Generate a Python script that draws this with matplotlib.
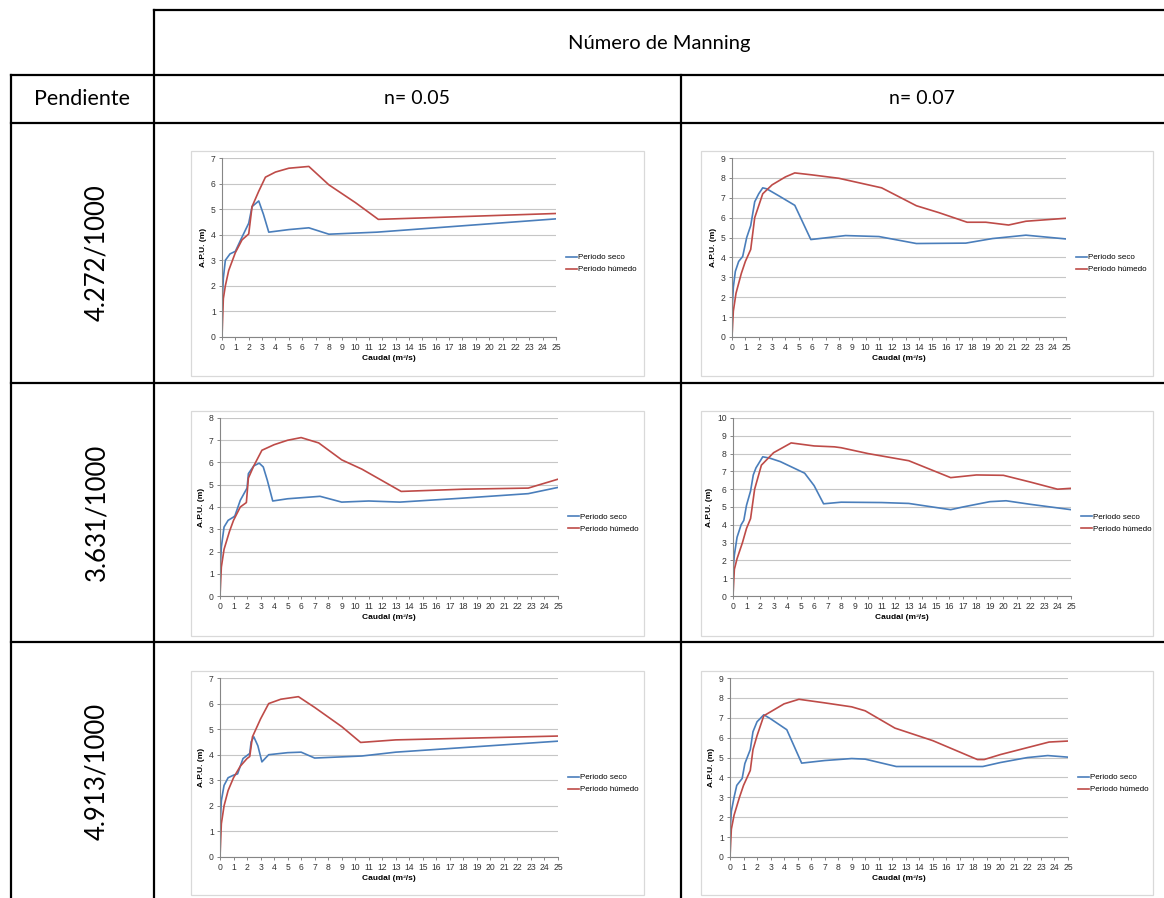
import matplotlib
matplotlib.use("Agg")
import matplotlib.pyplot as plt
from matplotlib.lines import Line2D
from matplotlib.patches import Rectangle

W, H = 1164, 898

# table text
header_top = "Número de Manning"
header_left = "Pendiente"
col_labels = ["n= 0.05", "n= 0.07"]
row_labels = ["4.272/1000", "3.631/1000", "4.913/1000"]
series_names = ["Periodo seco", "Periodo húmedo"]

# row 1, n=0.05
q_seco_1 = [0, 0.1, 0.25, 0.6, 1.0, 1.4, 2.0, 2.25, 2.75, 3.1, 3.5, 5.0, 6.5, 8.0, 11.6, 25]
h_seco_1 = [1.2, 2.3, 3.0, 3.25, 3.35, 3.8, 4.45, 5.1, 5.32, 4.8, 4.1, 4.2, 4.27, 4.02, 4.1, 4.62]
q_hum_1 = [0, 0.1, 0.25, 0.5, 1.0, 1.5, 2.0, 2.25, 2.75, 3.25, 4.0, 5.0, 6.5, 8.0, 10.0, 11.7, 25]
h_hum_1 = [0, 1.5, 2.0, 2.6, 3.3, 3.8, 4.03, 5.1, 5.7, 6.25, 6.45, 6.6, 6.67, 5.95, 5.25, 4.6, 4.83]

# row 1, n=0.07
q_seco_2 = [0, 0.1, 0.25, 0.5, 0.8, 1.1, 1.4, 1.7, 2.0, 2.3, 2.6, 3.5, 4.7, 5.9, 8.5, 11.0, 13.8, 17.5, 19.5, 22.0, 25]
h_seco_2 = [1.3, 2.5, 3.3, 3.8, 4.05, 5.0, 5.6, 6.8, 7.2, 7.5, 7.45, 7.1, 6.62, 4.9, 5.1, 5.05, 4.7, 4.72, 4.95, 5.12, 4.93]
q_hum_2 = [0, 0.1, 0.3, 0.7, 1.0, 1.4, 1.7, 2.3, 3.0, 4.0, 4.7, 6.0, 8.0, 11.2, 13.8, 15.5, 17.6, 19.0, 20.7, 22.0, 25]
h_hum_2 = [0, 1.3, 2.2, 3.2, 3.8, 4.4, 6.0, 7.2, 7.65, 8.05, 8.25, 8.15, 7.98, 7.5, 6.6, 6.25, 5.77, 5.77, 5.63, 5.82, 5.97]

# row 2, n=0.05
q_seco_3 = [0, 0.1, 0.3, 0.6, 1.0, 1.1, 1.5, 2.0, 2.1, 2.5, 2.9, 3.2, 3.5, 3.9, 5.0, 7.4, 9.0, 11.0, 13.3, 18.0, 22.8, 25]
h_seco_3 = [1.0, 2.2, 3.1, 3.4, 3.55, 3.6, 4.3, 4.85, 5.5, 5.85, 5.97, 5.8, 5.2, 4.27, 4.37, 4.48, 4.22, 4.27, 4.22, 4.4, 4.6, 4.88]
q_hum_3 = [0, 0.1, 0.3, 0.7, 1.0, 1.5, 1.95, 2.1, 2.5, 3.1, 4.0, 5.0, 6.0, 7.3, 9.0, 10.5, 13.4, 18.0, 22.8, 25]
h_hum_3 = [0, 1.3, 2.1, 2.9, 3.4, 4.0, 4.2, 5.3, 5.85, 6.55, 6.8, 7.0, 7.12, 6.88, 6.12, 5.7, 4.7, 4.8, 4.85, 5.25]

# row 2, n=0.07
q_seco_4 = [0, 0.1, 0.3, 0.6, 0.8, 1.0, 1.3, 1.5, 1.7, 2.2, 2.7, 3.5, 5.3, 6.0, 6.7, 8.0, 11.0, 13.0, 16.1, 17.0, 19.0, 20.2, 22.0, 25]
h_seco_4 = [1.4, 2.3, 3.3, 4.0, 4.25, 5.1, 5.9, 6.8, 7.2, 7.82, 7.75, 7.55, 6.9, 6.2, 5.18, 5.27, 5.25, 5.2, 4.85, 5.0, 5.3, 5.35, 5.15, 4.85]
q_hum_4 = [0, 0.1, 0.3, 0.7, 1.0, 1.3, 1.6, 2.1, 3.0, 4.3, 6.0, 7.5, 8.0, 10.0, 13.0, 16.1, 18.0, 20.0, 22.0, 24.0, 25]
h_hum_4 = [0, 1.5, 2.1, 3.0, 3.8, 4.35, 6.0, 7.35, 8.05, 8.6, 8.43, 8.38, 8.33, 8.0, 7.6, 6.65, 6.8, 6.78, 6.4, 6.0, 6.05]

# row 3, n=0.05
q_seco_5 = [0, 0.1, 0.3, 0.6, 1.0, 1.3, 1.7, 2.2, 2.3, 2.5, 2.8, 3.1, 3.6, 5.0, 6.0, 7.0, 10.5, 13.0, 25]
h_seco_5 = [1.1, 2.2, 2.8, 3.1, 3.2, 3.25, 3.85, 4.05, 4.5, 4.7, 4.35, 3.72, 4.0, 4.08, 4.1, 3.87, 3.95, 4.1, 4.53]
q_hum_5 = [0, 0.1, 0.3, 0.6, 1.0, 1.5, 2.0, 2.2, 2.4, 3.0, 3.6, 4.5, 5.8, 7.0, 9.0, 10.4, 13.0, 25]
h_hum_5 = [0, 1.3, 2.0, 2.6, 3.1, 3.55, 3.85, 3.93, 4.7, 5.4, 6.0, 6.17, 6.27, 5.85, 5.1, 4.48, 4.58, 4.73]

# row 3, n=0.07
q_seco_6 = [0, 0.1, 0.3, 0.5, 0.9, 1.1, 1.5, 1.7, 2.0, 2.5, 3.0, 4.2, 5.3, 7.0, 9.0, 10.0, 12.3, 18.7, 20.0, 22.0, 23.5, 25]
h_seco_6 = [1.2, 2.3, 3.0, 3.6, 3.95, 4.7, 5.4, 6.3, 6.8, 7.15, 6.95, 6.4, 4.72, 4.85, 4.95, 4.92, 4.55, 4.55, 4.75, 5.0, 5.1, 5.02]
q_hum_6 = [0, 0.1, 0.3, 0.7, 1.0, 1.5, 1.7, 2.0, 2.5, 3.0, 4.0, 5.1, 7.0, 9.0, 10.0, 12.2, 15.0, 18.3, 18.8, 20.0, 22.0, 23.6, 25]
h_hum_6 = [0, 1.4, 2.1, 3.0, 3.6, 4.35, 5.4, 6.1, 7.1, 7.3, 7.7, 7.93, 7.75, 7.55, 7.35, 6.48, 5.85, 4.9, 4.9, 5.15, 5.5, 5.78, 5.83]

y_max = [7, 9, 8, 10, 7, 9]

charts = [
    (q_seco_1, h_seco_1, q_hum_1, h_hum_1),
    (q_seco_2, h_seco_2, q_hum_2, h_hum_2),
    (q_seco_3, h_seco_3, q_hum_3, h_hum_3),
    (q_seco_4, h_seco_4, q_hum_4, h_hum_4),
    (q_seco_5, h_seco_5, q_hum_5, h_hum_5),
    (q_seco_6, h_seco_6, q_hum_6, h_hum_6),
]

# pixel boxes (x0, y0, x1, y1), top-left origin
chart_boxes = [(191, 151, 644, 376), (701, 151, 1153, 376),
               (191, 411, 644, 636), (701, 411, 1153, 636),
               (191, 671, 644, 895), (701, 671, 1153, 895)]
plot_boxes = [(222, 158, 556, 337), (732, 158, 1066, 337),
              (220, 418, 558, 596), (733, 418, 1071, 596),
              (220, 678, 558, 857), (730, 678, 1068, 857)]

blue = "#4a7ebb"
red = "#be4b48"
table_font = "Lato"
chart_font = "Liberation Sans"

fig = plt.figure(figsize=(W / 100, H / 100), dpi=100)


def fx(x):
    return x / W


def fy(y):
    return 1 - y / H


def hline(y, x0, x1):
    fig.add_artist(Line2D([fx(x0), fx(x1)], [fy(y), fy(y)], color="black", lw=1.6,
                          transform=fig.transFigure))


def vline(x, y0, y1):
    fig.add_artist(Line2D([fx(x), fx(x)], [fy(y0), fy(y1)], color="black", lw=1.6,
                          transform=fig.transFigure))


# table grid
hline(10, 154, 1164)
hline(75, 11, 1164)
hline(123, 11, 1164)
hline(383, 11, 1164)
hline(642, 11, 1164)
vline(11, 75, 898)
vline(154, 10, 898)
vline(681, 75, 898)

fig.text(fx(659), fy(43), header_top, ha="center", va="center", fontsize=14.5, family=table_font)
fig.text(fx(82), fy(99), header_left, ha="center", va="center", fontsize=15.5, family=table_font)
fig.text(fx(417), fy(99), col_labels[0], ha="center", va="center", fontsize=14, family=table_font)
fig.text(fx(922), fy(99), col_labels[1], ha="center", va="center", fontsize=14, family=table_font)
for lab, yc in zip(row_labels, [253, 512, 771]):
    fig.text(fx(97), fy(yc), lab, ha="center", va="center", rotation=90, fontsize=18.5,
             family=table_font)

for i, (qs, hs, qh, hh) in enumerate(charts):
    bx0, by0, bx1, by1 = chart_boxes[i]
    fig.add_artist(Rectangle((fx(bx0), fy(by1)), fx(bx1 - bx0), (by1 - by0) / H,
                             transform=fig.transFigure, fill=False, edgecolor="#d9d9d9", lw=0.9))
    px0, py0, px1, py1 = plot_boxes[i]
    ax = fig.add_axes([fx(px0), fy(py1), fx(px1 - px0), (py1 - py0) / H])
    ax.plot(qs, hs, color=blue, lw=1.2, label=series_names[0])
    ax.plot(qh, hh, color=red, lw=1.2, label=series_names[1])
    ax.set_xlim(0, 25)
    ax.set_ylim(0, y_max[i])
    ax.set_xticks(range(0, 26))
    ax.set_yticks(range(0, y_max[i] + 1))
    ax.grid(axis="y", color="#c6c6c6", lw=0.8)
    ax.set_axisbelow(True)
    for s in ["top", "right"]:
        ax.spines[s].set_visible(False)
    for s in ["left", "bottom"]:
        ax.spines[s].set_color("#868686")
        ax.spines[s].set_linewidth(0.8)
    ax.tick_params(direction="out", length=2.5, width=0.7, color="#868686",
                   labelsize=6.2, labelcolor="#333333", pad=2)
    for t in ax.get_xticklabels() + ax.get_yticklabels():
        t.set_family(chart_font)
    ax.set_xlabel("Caudal (m³/s)", fontsize=6, fontweight="bold", family=chart_font, labelpad=2)
    ax.set_ylabel("A.P.U. (m)", fontsize=6, fontweight="bold", family=chart_font, labelpad=3)
    ax.legend(loc="center left", bbox_to_anchor=(1.02, 0.41), frameon=False,
              prop={"family": chart_font, "size": 5.8}, handlelength=1.4, handletextpad=0.1,
              labelspacing=0.55, borderaxespad=0)

fig.savefig("out.png", dpi=100)
